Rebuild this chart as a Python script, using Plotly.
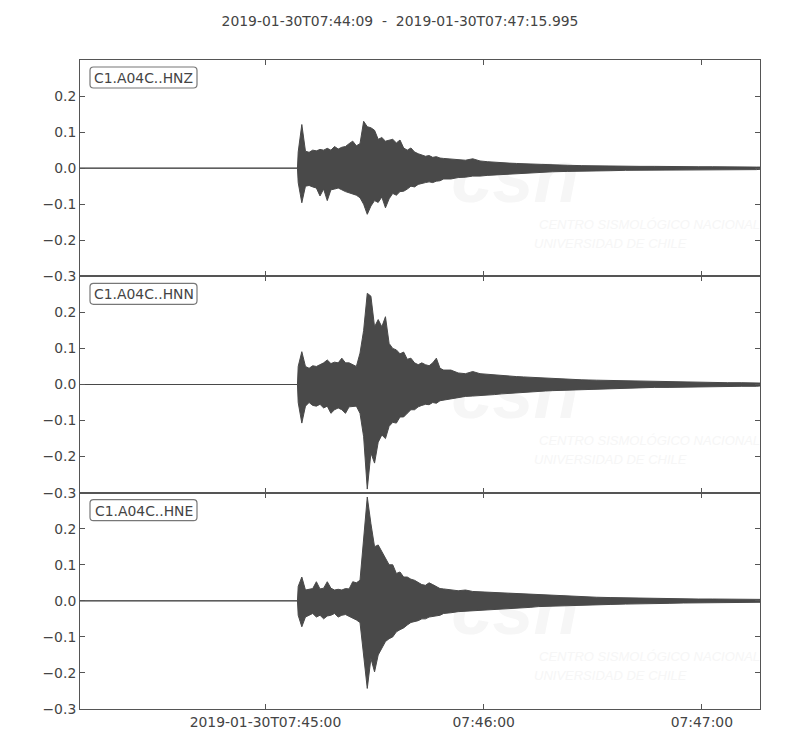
import pandas as pd
import plotly.graph_objects as go
from plotly.subplots import make_subplots

# ---------------- data ----------------
start_time = "2019-01-30 07:44:09"
end_time = "2019-01-30 07:47:15.995"
channels = ["C1.A04C..HNZ", "C1.A04C..HNN", "C1.A04C..HNE"]

# seconds after start time
t_sec = [0, 59.8] + list(range(60, 101)) + list(range(102, 131, 2)) + list(range(134, 187, 4)) + [187]

hnz_upper = [0, 0,
             0.045, 0.121, 0.047, 0.044, 0.050, 0.048, 0.052, 0.050, 0.055, 0.050,
             0.060, 0.053, 0.058, 0.060, 0.068, 0.075, 0.062, 0.068, 0.130, 0.115,
             0.112, 0.105, 0.080, 0.085, 0.075, 0.078, 0.080, 0.070, 0.078, 0.056,
             0.050, 0.056, 0.045, 0.040, 0.036, 0.033, 0.035, 0.030, 0.032, 0.028, 0.027,
             0.026, 0.024, 0.022, 0.026, 0.020, 0.018, 0.016, 0.015, 0.014, 0.013,
             0.012, 0.011, 0.010, 0.009, 0.009,
             0.008, 0.007, 0.006, 0.006, 0.005, 0.005, 0.005, 0.004, 0.004, 0.004,
             0.004, 0.003, 0.003, 0.003, 0.003]
hnz_lower = [0, 0,
             -0.040, -0.096, -0.050, -0.048, -0.052, -0.055, -0.077, -0.058, -0.090, -0.060,
             -0.058, -0.055, -0.060, -0.065, -0.070, -0.072, -0.075, -0.082, -0.100, -0.128,
             -0.105, -0.090, -0.095, -0.080, -0.110, -0.085, -0.070, -0.075, -0.065, -0.064,
             -0.058, -0.050, -0.052, -0.045, -0.042, -0.040, -0.038, -0.040, -0.036, -0.035, -0.030,
             -0.030, -0.026, -0.025, -0.022, -0.022, -0.020, -0.018, -0.017, -0.015, -0.014,
             -0.013, -0.012, -0.011, -0.011, -0.010,
             -0.009, -0.008, -0.007, -0.007, -0.006, -0.006, -0.005, -0.005, -0.005, -0.005,
             -0.004, -0.004, -0.004, -0.004, -0.003]

hnn_upper = [0, 0,
             0.050, 0.091, 0.050, 0.045, 0.052, 0.050, 0.055, 0.060, 0.068, 0.058,
             0.062, 0.060, 0.073, 0.060, 0.060, 0.055, 0.050, 0.087, 0.150, 0.253,
             0.245, 0.160, 0.180, 0.160, 0.188, 0.114, 0.100, 0.096, 0.085, 0.090,
             0.070, 0.073, 0.060, 0.055, 0.060, 0.055, 0.052, 0.060, 0.073, 0.045, 0.040,
             0.040, 0.032, 0.030, 0.036, 0.030, 0.028, 0.027, 0.025, 0.024, 0.022,
             0.021, 0.020, 0.019, 0.018, 0.016,
             0.015, 0.013, 0.012, 0.011, 0.010, 0.009, 0.008, 0.007, 0.007, 0.006,
             0.006, 0.005, 0.005, 0.005, 0.004]
hnn_lower = [0, 0,
             -0.050, -0.107, -0.060, -0.050, -0.058, -0.060, -0.055, -0.065, -0.060, -0.080,
             -0.070, -0.065, -0.070, -0.080, -0.062, -0.060, -0.060, -0.080, -0.145, -0.290,
             -0.190, -0.218, -0.160, -0.140, -0.150, -0.116, -0.105, -0.107, -0.090, -0.090,
             -0.080, -0.070, -0.070, -0.062, -0.058, -0.055, -0.056, -0.050, -0.052, -0.045, -0.042,
             -0.040, -0.036, -0.033, -0.032, -0.030, -0.030, -0.028, -0.026, -0.025, -0.023,
             -0.022, -0.020, -0.019, -0.018, -0.017,
             -0.015, -0.014, -0.012, -0.011, -0.010, -0.009, -0.008, -0.008, -0.007, -0.007,
             -0.006, -0.006, -0.005, -0.005, -0.004]

hne_upper = [0, 0,
             0.040, 0.066, 0.030, 0.032, 0.034, 0.053, 0.033, 0.035, 0.053, 0.035,
             0.030, 0.032, 0.030, 0.034, 0.033, 0.053, 0.050, 0.057, 0.170, 0.288,
             0.214, 0.150, 0.155, 0.136, 0.117, 0.100, 0.100, 0.076, 0.080, 0.066,
             0.066, 0.060, 0.057, 0.050, 0.045, 0.043, 0.050, 0.045, 0.040, 0.034, 0.033,
             0.030, 0.028, 0.030, 0.026, 0.025, 0.024, 0.022, 0.021, 0.020, 0.019,
             0.018, 0.017, 0.016, 0.015, 0.014,
             0.013, 0.011, 0.010, 0.009, 0.008, 0.008, 0.007, 0.006, 0.006, 0.005,
             0.005, 0.005, 0.004, 0.004, 0.004]
hne_lower = [0, 0,
             -0.040, -0.072, -0.045, -0.040, -0.035, -0.045, -0.040, -0.050, -0.042, -0.040,
             -0.035, -0.045, -0.040, -0.038, -0.042, -0.048, -0.053, -0.060, -0.150, -0.243,
             -0.160, -0.197, -0.150, -0.130, -0.113, -0.105, -0.100, -0.086, -0.080, -0.075,
             -0.067, -0.060, -0.058, -0.055, -0.050, -0.050, -0.045, -0.045, -0.042, -0.040, -0.035,
             -0.033, -0.030, -0.028, -0.028, -0.026, -0.025, -0.024, -0.022, -0.021, -0.020,
             -0.019, -0.018, -0.016, -0.015, -0.014,
             -0.013, -0.012, -0.011, -0.010, -0.009, -0.008, -0.007, -0.007, -0.006, -0.006,
             -0.005, -0.005, -0.005, -0.004, -0.004]

y_tickvals = [-0.3, -0.2, -0.1, 0.0, 0.1, 0.2]
y_ticktext = ["\u22120.3", "\u22120.2", "\u22120.1", "0.0", "0.1", "0.2"]
x_tickvals = ["2019-01-30 07:45:00", "2019-01-30 07:46:00", "2019-01-30 07:47:00"]
x_ticktext = ["2019-01-30T07:45:00", "07:46:00", "07:47:00"]
title_text = "2019-01-30T07:44:09  -  2019-01-30T07:47:15.995"
watermark_big = "csn"
watermark_line1 = "CENTRO SISMOLÓGICO NACIONAL"
watermark_line2 = "UNIVERSIDAD DE CHILE"

# ---------------- figure ----------------
WAVE = "#494949"
FRAME = "#555555"
TXT = "#444444"
FONT = "DejaVu Sans"
FS = 13.9

series = [(hnz_upper, hnz_lower), (hnn_upper, hnn_lower), (hne_upper, hne_lower)]
times = pd.Timestamp(start_time) + pd.to_timedelta(t_sec, unit="s")
tstr = [t.strftime("%Y-%m-%d %H:%M:%S.%f")[:-3] for t in times]

fig = make_subplots(rows=3, cols=1, shared_xaxes=True, vertical_spacing=0)

for i, (up, lo) in enumerate(series):
    xs = tstr + tstr[::-1]
    ys = up + lo[::-1]
    fig.add_trace(go.Scatter(x=xs, y=ys, mode="lines", fill="toself",
                             fillcolor=WAVE, line=dict(color=WAVE, width=1),
                             hoverinfo="skip", showlegend=False), row=i + 1, col=1)

W, H = 800, 750
ml, mr, mt, mb = 80, 40, 60, 41
pw = W - ml - mr
ph = (H - mt - mb) / 3.0

for i in range(3):
    ax = "" if i == 0 else str(i + 1)
    xref = f"x{ax} domain"
    yref = f"y{ax} domain"

    def X(p):
        return p / pw

    def Y(p):
        return 1 - p / ph

    # rounded label box
    bx0, bx1, by0, by1, r = 10, 117, 7, 28, 3.5
    path = (f"M {X(bx0 + r)} {Y(by0)} L {X(bx1 - r)} {Y(by0)} "
            f"Q {X(bx1)} {Y(by0)} {X(bx1)} {Y(by0 + r)} L {X(bx1)} {Y(by1 - r)} "
            f"Q {X(bx1)} {Y(by1)} {X(bx1 - r)} {Y(by1)} L {X(bx0 + r)} {Y(by1)} "
            f"Q {X(bx0)} {Y(by1)} {X(bx0)} {Y(by1 - r)} L {X(bx0)} {Y(by0 + r)} "
            f"Q {X(bx0)} {Y(by0)} {X(bx0 + r)} {Y(by0)} Z")
    fig.add_shape(type="path", path=path, xref=xref, yref=yref,
                  line=dict(color="#777777", width=1.2), fillcolor="white", layer="above")
    fig.add_annotation(text=channels[i], xref=xref, yref=yref,
                       x=X((bx0 + bx1) / 2), y=Y((by0 + by1) / 2 + 0.5),
                       showarrow=False, xanchor="center", yanchor="middle",
                       font=dict(family=FONT, size=FS, color=TXT))
    # faint watermark (below the waveform)
    wm = "#f6f6f6"
    fig.add_shape(type="rect", xref=xref, yref=yref, x0=X(380), x1=X(490), y0=Y(150), y1=Y(68),
                  line=dict(width=0), fillcolor="rgba(0,0,0,0)", layer="below",
                  label=dict(text=watermark_big, textposition="middle center",
                             font=dict(family="Liberation Sans", size=74, color=wm,
                                       weight="bold", style="italic")))
    fig.add_shape(type="rect", xref=xref, yref=yref, x0=X(453), x1=X(676), y0=Y(173), y1=Y(153),
                  line=dict(width=0), fillcolor="rgba(0,0,0,0)", layer="below",
                  label=dict(text=watermark_line1, textposition="middle left",
                             font=dict(family="Liberation Sans", size=13, color=wm, style="italic")))
    fig.add_shape(type="rect", xref=xref, yref=yref, x0=X(448), x1=X(676), y0=Y(191), y1=Y(173),
                  line=dict(width=0), fillcolor="rgba(0,0,0,0)", layer="below",
                  label=dict(text=watermark_line2, textposition="middle left",
                             font=dict(family="Liberation Sans", size=13, color=wm, style="italic")))

for i in range(1, 4):
    fig.update_yaxes(range=[-0.3, 0.3], tickvals=y_tickvals, ticktext=y_ticktext,
                     ticks="inside", ticklen=5, tickcolor=FRAME, showgrid=False, zeroline=False,
                     showline=True, linecolor=FRAME, linewidth=1, mirror="ticks",
                     tickfont=dict(family=FONT, size=FS, color=TXT), row=i, col=1)
    fig.update_xaxes(range=[start_time, end_time], tickvals=x_tickvals, ticktext=x_ticktext,
                     ticks="inside", ticklen=5, tickcolor=FRAME, showgrid=False, zeroline=False,
                     showline=True, linecolor=FRAME, linewidth=1, mirror="ticks",
                     showticklabels=(i == 3),
                     tickfont=dict(family=FONT, size=FS, color=TXT), row=i, col=1)

fig.update_layout(
    width=W, height=H,
    margin=dict(l=ml, r=mr, t=mt, b=mb),
    paper_bgcolor="white", plot_bgcolor="white",
    title=dict(text=title_text, x=0.5, xref="container", xanchor="center",
               y=1 - 21 / H, yref="container", yanchor="middle",
               font=dict(family=FONT, size=FS, color=TXT)),
    showlegend=False,
)

fig.write_html("out.html", config={"displayModeBar": False},
               post_script="document.body.style.margin='0';document.body.style.overflow='hidden';")
